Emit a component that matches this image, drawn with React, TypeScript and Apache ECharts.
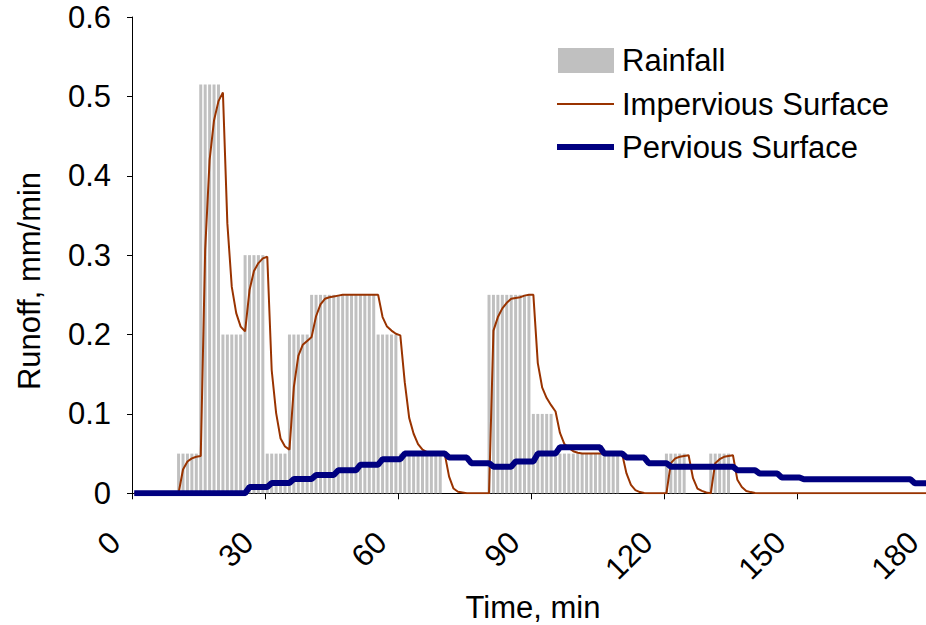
import React, { useEffect, useRef } from "react";
import * as echarts from "echarts";

// Rainfall intensity for each minute k (0..139), mm/min
const rainfall: number[] = [
  0, 0, 0, 0, 0, 0, 0, 0, 0, 0,
  0.05, 0.05, 0.05, 0.05, 0.05, 0.515, 0.515, 0.515, 0.515, 0.515,
  0.2, 0.2, 0.2, 0.2, 0.2, 0.3, 0.3, 0.3, 0.3, 0.3,
  0.05, 0.05, 0.05, 0.05, 0.05, 0.2, 0.2, 0.2, 0.2, 0.2,
  0.25, 0.25, 0.25, 0.25, 0.25, 0.25, 0.25, 0.25, 0.25, 0.25,
  0.25, 0.25, 0.25, 0.25, 0.25, 0.2, 0.2, 0.2, 0.2, 0.2,
  0.05, 0.05, 0.05, 0.05, 0.05, 0.05, 0.05, 0.05, 0.05, 0.05,
  0, 0, 0, 0, 0, 0, 0, 0, 0, 0,
  0.25, 0.25, 0.25, 0.25, 0.25, 0.25, 0.25, 0.25, 0.25, 0.25,
  0.1, 0.1, 0.1, 0.1, 0.1, 0.05, 0.05, 0.05, 0.05, 0.05,
  0.05, 0.05, 0.05, 0.05, 0.05, 0.05, 0.05, 0.05, 0.05, 0.05,
  0, 0, 0, 0, 0, 0, 0, 0, 0, 0,
  0.05, 0.05, 0.05, 0.05, 0.05, 0, 0, 0, 0, 0,
  0.05, 0.05, 0.05, 0.05, 0.05, 0, 0, 0, 0, 0,
];

// Impervious surface runoff for each minute k (0..180)
const impervious: number[] = [
  0, 0, 0, 0, 0, 0, 0, 0, 0, 0,
  0, 0.03, 0.04, 0.044, 0.046, 0.047, 0.307, 0.42, 0.47, 0.494,
  0.505, 0.34, 0.26, 0.227, 0.21, 0.204, 0.256, 0.28, 0.29, 0.296,
  0.298, 0.155, 0.101, 0.069, 0.059, 0.055, 0.134, 0.173, 0.187, 0.192,
  0.197, 0.223, 0.238, 0.245, 0.247, 0.248, 0.249, 0.25, 0.25, 0.25,
  0.25, 0.25, 0.25, 0.25, 0.25, 0.25, 0.222, 0.21, 0.205, 0.201,
  0.199, 0.14, 0.095, 0.075, 0.062, 0.055, 0.052, 0.051, 0.05, 0.05,
  0.05, 0.021, 0.006, 0.002, 0.001, 0, 0, 0, 0, 0,
  0, 0.205, 0.222, 0.233, 0.24, 0.245, 0.246, 0.247, 0.249, 0.25,
  0.25, 0.164, 0.133, 0.12, 0.111, 0.103, 0.076, 0.062, 0.057, 0.053,
  0.051, 0.05, 0.05, 0.05, 0.05, 0.05, 0.05, 0.05, 0.05, 0.05,
  0.05, 0.025, 0.0105, 0.004, 0.0015, 0.0005, 0, 0, 0, 0,
  0, 0.038, 0.044, 0.046, 0.047, 0.048, 0.019, 0.006, 0.003, 0.001,
  0, 0.038, 0.043, 0.046, 0.047, 0.048, 0.017, 0.008, 0.003, 0.0015,
  0.0005, 0, 0, 0, 0, 0, 0, 0, 0, 0,
  0, 0, 0, 0, 0, 0, 0, 0, 0, 0,
  0, 0, 0, 0, 0, 0, 0, 0, 0, 0,
  0, 0, 0, 0, 0, 0, 0, 0, 0, 0,
  0,
];

// Pervious surface runoff for each minute k (0..180)
const pervious: number[] = [
  0, 0, 0, 0, 0, 0, 0, 0, 0, 0,
  0, 0, 0, 0, 0, 0, 0, 0, 0, 0,
  0, 0, 0, 0, 0, 0, 0.008, 0.008, 0.008, 0.008,
  0.008, 0.013, 0.013, 0.013, 0.013, 0.013, 0.018, 0.018, 0.018, 0.018,
  0.018, 0.023, 0.023, 0.023, 0.023, 0.023, 0.029, 0.029, 0.029, 0.029,
  0.029, 0.036, 0.036, 0.036, 0.036, 0.036, 0.043, 0.043, 0.043, 0.043,
  0.043, 0.05, 0.05, 0.05, 0.05, 0.05, 0.05, 0.05, 0.05, 0.05,
  0.05, 0.045, 0.045, 0.045, 0.045, 0.045, 0.038, 0.038, 0.038, 0.038,
  0.038, 0.0335, 0.0335, 0.0335, 0.0335, 0.0335, 0.04, 0.04, 0.04, 0.04,
  0.04, 0.05, 0.05, 0.05, 0.05, 0.05, 0.058, 0.058, 0.058, 0.058,
  0.058, 0.058, 0.058, 0.058, 0.058, 0.058, 0.05, 0.05, 0.05, 0.05,
  0.05, 0.045, 0.045, 0.045, 0.045, 0.045, 0.038, 0.038, 0.038, 0.038,
  0.038, 0.0335, 0.0335, 0.0335, 0.0335, 0.0335, 0.0335, 0.0335, 0.0335, 0.0335,
  0.0335, 0.0335, 0.0335, 0.0335, 0.0335, 0.0335, 0.029, 0.029, 0.029, 0.029,
  0.029, 0.025, 0.025, 0.025, 0.025, 0.025, 0.02, 0.02, 0.02, 0.02,
  0.02, 0.0177, 0.0177, 0.0177, 0.0177, 0.0177, 0.0177, 0.0177, 0.0177, 0.0177,
  0.0177, 0.0177, 0.0177, 0.0177, 0.0177, 0.0177, 0.0177, 0.0177, 0.0177, 0.0177,
  0.0177, 0.0177, 0.0177, 0.0177, 0.0177, 0.0177, 0.0126, 0.0126, 0.0126, 0.0126,
  0.0126,
];

const seriesNames = ["Rainfall", "Impervious Surface", "Pervious Surface"];
const xTitle = "Time, min";
const yTitle = "Runoff, mm/min";

const FONT = "'Liberation Sans', Arial, sans-serif";
const FS = 31;
const RAIN_COLOR = "#C0C0C0";
const IMP_COLOR = "#993300";
const PERV_COLOR = "#000080";

// each minute value is plotted at the middle of its minute
const toPoints = (arr: number[]) => arr.map((v, k) => [k + 0.5, v]);

export default function App() {
  const ref = useRef<HTMLDivElement>(null);

  useEffect(() => {
    if (!ref.current) return;
    const chart = echarts.init(ref.current, null, { renderer: "svg" });
    const option: any = {
      animation: false,
      backgroundColor: "#ffffff",
      textStyle: { fontFamily: FONT },
      grid: {
        left: 132,
        top: 17,
        width: 798.3,
        height: 476.3,
        containLabel: false,
        outerBoundsMode: "none",
      },
      xAxis: {
        type: "value",
        min: 0,
        max: 180,
        interval: 30,
        splitLine: { show: false },
        axisLine: { show: true, lineStyle: { color: "#000", width: 1 } },
        axisTick: { show: true, length: 6, lineStyle: { color: "#000" } },
        axisLabel: {
          rotate: 45,
          margin: 27,
          padding: [0, 24, 0, 0],
          fontSize: FS,
          color: "#000",
          fontFamily: FONT,
          showMaxLabel: true,
        },
      },
      yAxis: {
        type: "value",
        min: 0,
        max: 0.6,
        interval: 0.1,
        splitLine: { show: false },
        axisLine: { show: true, lineStyle: { color: "#000", width: 1 } },
        axisTick: { show: true, length: 5, lineStyle: { color: "#000" } },
        axisLabel: {
          margin: 21,
          fontSize: FS,
          color: "#000",
          fontFamily: FONT,
          formatter: (v: number) => (v === 0 ? "0" : v.toFixed(1)),
        },
      },
      series: [
        {
          name: seriesNames[0],
          type: "bar",
          data: toPoints(rainfall),
          barWidth: 3,
          itemStyle: { color: RAIN_COLOR },
          z: 1,
        },
        {
          name: seriesNames[1],
          type: "line",
          data: toPoints(impervious),
          symbol: "none",
          lineStyle: { color: IMP_COLOR, width: 2 },
          itemStyle: { color: IMP_COLOR },
          z: 2,
        },
        {
          name: seriesNames[2],
          type: "line",
          data: toPoints(pervious),
          symbol: "none",
          lineStyle: { color: PERV_COLOR, width: 6 },
          itemStyle: { color: PERV_COLOR },
          z: 3,
        },
      ],
      graphic: [
        {
          type: "rect",
          shape: { x: 558, y: 48, width: 56, height: 25 },
          style: { fill: RAIN_COLOR },
        },
        {
          type: "line",
          shape: { x1: 557, y1: 104, x2: 614, y2: 104 },
          style: { stroke: IMP_COLOR, lineWidth: 2 },
        },
        {
          type: "line",
          shape: { x1: 557, y1: 147, x2: 614, y2: 147 },
          style: { stroke: PERV_COLOR, lineWidth: 6 },
        },
        {
          type: "text",
          x: 622,
          y: 60,
          style: { text: seriesNames[0], font: `${FS}px ${FONT}`, fill: "#000", verticalAlign: "middle" },
        },
        {
          type: "text",
          x: 622,
          y: 104,
          style: { text: seriesNames[1], font: `${FS}px ${FONT}`, fill: "#000", verticalAlign: "middle" },
        },
        {
          type: "text",
          x: 622,
          y: 147,
          style: { text: seriesNames[2], font: `${FS}px ${FONT}`, fill: "#000", verticalAlign: "middle" },
        },
        {
          type: "text",
          x: 533,
          y: 607,
          style: { text: xTitle, font: `${FS}px ${FONT}`, fill: "#000", align: "center", verticalAlign: "middle" },
        },
        {
          type: "text",
          x: 29,
          y: 281,
          rotation: Math.PI / 2,
          style: { text: yTitle, font: `${FS}px ${FONT}`, fill: "#000", align: "center", verticalAlign: "middle" },
        },
      ],
    };
    chart.setOption(option);
    return () => chart.dispose();
  }, []);

  return (
    <div
      ref={ref}
      style={{ position: "absolute", left: 0, top: 0, width: 926, height: 625, background: "#fff" }}
    />
  );
}
